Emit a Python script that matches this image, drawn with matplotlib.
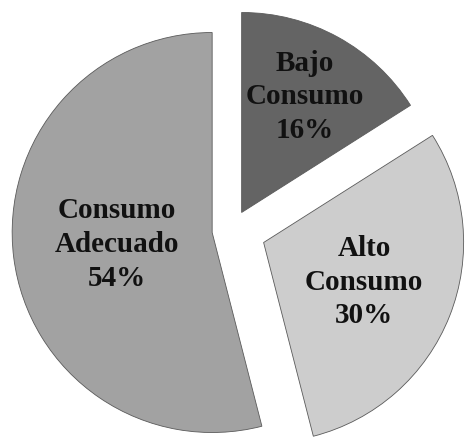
import numpy as np
import matplotlib
matplotlib.use('Agg')
import matplotlib.pyplot as plt

# Distribution of consumption levels
labels = ['Bajo\nConsumo', 'Alto\nConsumo', 'Consumo\nAdecuado']
values = [16, 30, 54]
colors = ['#646464', '#cdcdcd', '#a2a2a2']
explode = [0.1, 0.17, 0.1]
label_r = [0.66, 0.54, 0.48]

fig = plt.figure(figsize=(4.65, 4.38), dpi=100)
ax = fig.add_axes([0, 0, 1, 1])

wedges, _ = ax.pie(values, colors=colors, explode=explode, startangle=90,
                   counterclock=False, radius=1.0,
                   wedgeprops=dict(linewidth=0.6, edgecolor='#5a5a5a'))

# put each label inside its wedge, measured from the wedge's own apex
for w, lab, v, r in zip(wedges, labels, values, label_r):
    mid = np.deg2rad((w.theta1 + w.theta2) / 2)
    cx, cy = w.center
    ax.text(cx + r * np.cos(mid), cy + r * np.sin(mid), f'{lab}\n{v}%',
            ha='center', va='center', fontsize=21, fontweight='bold',
            family='Liberation Serif', color='#111111', linespacing=1.32)

ax.set_xlim(-232 / 200, (465 - 232) / 200)
ax.set_ylim(-208 / 200, 230 / 200)
ax.set_aspect('equal')
ax.axis('off')

fig.savefig('out.png', dpi=100, facecolor='white')
